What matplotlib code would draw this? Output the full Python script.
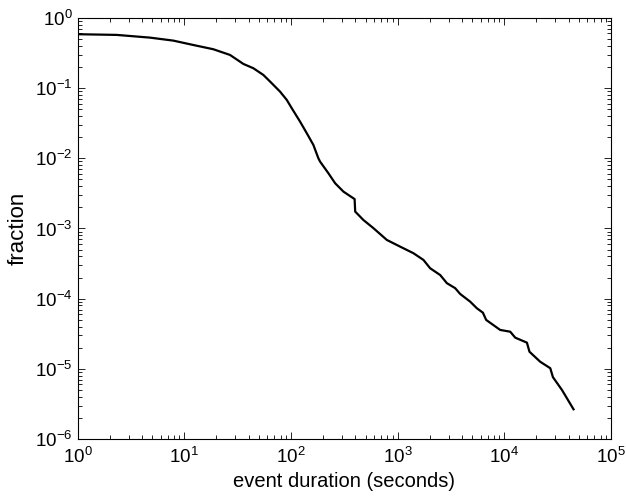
import matplotlib
matplotlib.use("Agg")
import matplotlib.pyplot as plt
import numpy as np

# survival fraction vs event duration
duration = [1, 2.32, 4.77, 7.89, 12.1, 18.7, 26.8, 35.8, 44.4, 55.1, 63.7, 79.0,
            91.4, 101.8, 121.7, 140.6, 162.2, 180.7, 187.5, 224.4, 259.4, 310.3,
            385, 395, 400, 477.5, 593, 792, 1055, 1406, 1746, 2017, 2505, 2897,
            3462, 3856, 4786, 5531, 6298, 6763, 9153, 11360, 12660, 16290, 17220,
            21720, 26970, 28570, 34700, 44560]
fraction = [0.586, 0.573, 0.524, 0.475, 0.412, 0.358, 0.297, 0.221, 0.192, 0.154,
            0.124, 0.0891, 0.0678, 0.0516, 0.0333, 0.0228, 0.0155, 0.0100, 0.00896,
            0.00612, 0.00441, 0.00335, 0.00269, 0.00262, 0.00174, 0.00132, 0.00101,
            0.000686, 0.000551, 0.000444, 0.000356, 0.000271, 0.000217, 0.000166,
            0.000141, 0.0001166, 0.0000906, 0.0000729, 0.0000631, 0.0000497,
            0.0000358, 0.0000338, 0.0000278, 0.0000236, 0.0000175, 0.0000126,
            0.0000102, 0.0000076, 0.0000050, 0.00000265]

plt.rcParams['font.family'] = ['Liberation Sans', 'DejaVu Sans']
plt.rcParams['mathtext.fontset'] = 'custom'
plt.rcParams['mathtext.rm'] = 'Liberation Sans'
plt.rcParams['mathtext.default'] = 'regular'

fig = plt.figure(figsize=(6.26, 4.98), dpi=100)
ax = fig.add_axes([0.124, 0.1185, 0.852, 0.8455])
ax.loglog(duration, fraction, color="black", linewidth=1.6)

ax.set_xlim(1, 1e5)
ax.set_ylim(1e-6, 1)
ax.set_xticks([10.0**k for k in range(0, 6)])
ax.set_yticks([10.0**k for k in range(-6, 1)])
ax.tick_params(which="both", direction="in", top=True, right=True, labelsize=13.5, width=0.6)
ax.tick_params(which="major", length=5)
ax.tick_params(which="minor", length=3)
ax.tick_params(axis="x", which="major", pad=6)
for s in ax.spines.values():
    s.set_linewidth(0.8)

ax.set_xlabel("event duration (seconds)", fontsize=14.5, labelpad=3)
ax.set_ylabel("fraction", fontsize=16, labelpad=5)

fig.savefig("out.png", dpi=100)
